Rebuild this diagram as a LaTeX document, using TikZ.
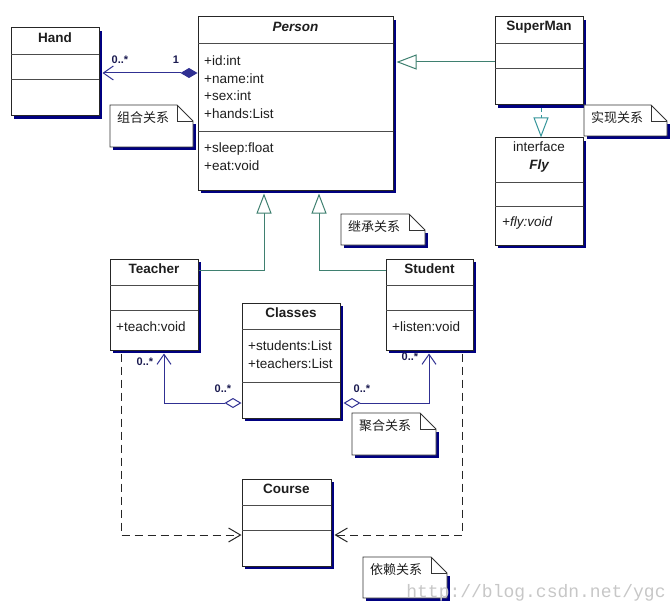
\documentclass[tikz,border=0pt]{standalone}
\usepackage{fontspec}
\setmainfont{Liberation Sans}
\newfontfamily\cjk{Noto Sans CJK SC}
\newfontfamily\wmfont{Liberation Mono}
\usetikzlibrary{arrows.meta,shadows}
\definecolor{shadownavy}{HTML}{000080}
\definecolor{assocblue}{HTML}{303092}
\definecolor{gencolor}{HTML}{3F8070}
\definecolor{realcolor}{HTML}{35959A}
\definecolor{txt}{HTML}{1E1E1E}
\definecolor{multc}{HTML}{1A1A50}
\tikzset{
  cls/.style={draw=black!85, line width=1pt, fill=white, inner sep=0pt,
    drop shadow={shadow xshift=3pt, shadow yshift=-3pt, fill=shadownavy, opacity=1, draw=none}},
  div/.style={draw=black!70, line width=0.9pt},
  ttl/.style={font=\fontsize{13.5}{16}\selectfont\bfseries, text=txt, inner sep=0pt},
  attr/.style={font=\fontsize{13.5}{16}\selectfont, text=txt, anchor=west, inner sep=0pt},
  mult/.style={font=\fontsize{11}{13}\selectfont\bfseries, text=multc, inner sep=0pt},
  notebox/.style={draw=black!80, line width=0.9pt, fill=white},
  notetext/.style={font=\cjk\fontsize{13}{15}\selectfont, text=txt, inner sep=0pt, anchor=west},
  assoc/.style={draw=assocblue, line width=1pt},
  gen/.style={draw=gencolor, line width=1pt, -{Triangle[open, length=20pt, width=15pt, fill=white]}},
  real/.style={draw=realcolor, line width=1pt, dash pattern=on 4pt off 3pt, -{Triangle[open, length=20pt, width=15pt, fill=white]}},
  dep/.style={draw=black!85, line width=1pt, dash pattern=on 8pt off 5pt, -{Straight Barb[length=12pt, width=14pt]}},
}
\newcommand{\mynote}[6]{%
  \fill[shadownavy] (#2+3,#3+19) -- (#4+3,#3+19) -- (#4+3,#5+3) -- (#2+3,#5+3) -- cycle;
  \draw[notebox] (#2,#3) -- (#4-16,#3) -- (#4,#3+16) -- (#4,#5) -- (#2,#5) -- cycle;
  \draw[notebox, fill=none] (#4-16,#3) -- (#4-16,#3+16) -- (#4,#3+16);
  \node[notetext] (#1) at (#2+7,#3+13) {#6};
}
\begin{document}
\begin{tikzpicture}[x=1pt, y=-1pt]
\useasboundingbox (0,0) rectangle (672,607);

% ---------- classes ----------
\node[cls, minimum width=88pt, minimum height=88pt] (hand) at (55,72) {};
\draw[div] (11,54) -- (99,54);
\draw[div] (11,79) -- (99,79);
\node[ttl] (handT) at (55,38) {Hand};

\node[cls, minimum width=195pt, minimum height=173pt] (person) at (295.5,103.5) {};
\draw[div] (198,43) -- (393,43);
\draw[div] (198,131) -- (393,131);
\node[ttl, font=\fontsize{13.5}{16}\selectfont\bfseries\itshape] (personT) at (295.5,27) {Person};
\node[attr] (pa1) at (204,61) {+id:int};
\node[attr] (pa2) at (204,79) {+name:int};
\node[attr] (pa3) at (204,96) {+sex:int};
\node[attr] (pa4) at (204,114) {+hands:List};
\node[attr] (pm1) at (204,149) {+sleep:float};
\node[attr] (pm2) at (204,166) {+eat:void};

\node[cls, minimum width=88pt, minimum height=88pt] (superman) at (539,61) {};
\draw[div] (495,43) -- (583,43);
\draw[div] (495,68) -- (583,68);
\node[ttl] (supermanT) at (539,27) {SuperMan};

\node[cls, minimum width=88pt, minimum height=107pt] (fly) at (539,191.5) {};
\draw[div] (495,182) -- (583,182);
\draw[div] (495,206) -- (583,206);
\node[attr, anchor=center] (flyS) at (539,147) {interface};
\node[ttl, font=\fontsize{13.5}{16}\selectfont\bfseries\itshape] (flyT) at (539,166) {Fly};
\node[attr, font=\fontsize{13.5}{16}\selectfont\itshape] (flyM) at (502,223) {+fly:void};

\node[cls, minimum width=88pt, minimum height=91pt] (teacher) at (154,304.5) {};
\draw[div] (110,285) -- (198,285);
\draw[div] (110,310) -- (198,310);
\node[ttl] (teacherT) at (154,269) {Teacher};
\node[attr] (teacherM) at (116,327) {+teach:void};

\node[cls, minimum width=87pt, minimum height=91pt] (student) at (429.5,304.5) {};
\draw[div] (386,285) -- (473,285);
\draw[div] (386,310) -- (473,310);
\node[ttl] (studentT) at (429.5,269) {Student};
\node[attr] (studentM) at (392,327) {+listen:void};

\node[cls, minimum width=98pt, minimum height=115pt] (classes) at (291,360.5) {};
\draw[div] (242,329) -- (340,329);
\draw[div] (242,382) -- (340,382);
\node[ttl] (classesT) at (291,313) {Classes};
\node[attr] (ca1) at (248,346) {+students:List};
\node[attr] (ca2) at (248,364) {+teachers:List};

\node[cls, minimum width=89pt, minimum height=87pt] (course) at (286.5,522.5) {};
\draw[div] (242,505) -- (331,505);
\draw[div] (242,530) -- (331,530);
\node[ttl] (courseT) at (286.5,489) {Course};

% ---------- connectors ----------
% composition Person -> Hand
\draw[assoc, {Diamond[length=17pt, width=10pt]}-{Straight Barb[length=10pt, width=14pt]}, shorten >=3pt]
  (person.west |- 0,73) -- (hand.east |- 0,73);
\node[mult] (m1) at (120,60) {0..*};
\node[mult] (m2) at (176,60) {1};

% generalization SuperMan -> Person
\draw[gen, shorten >=3pt] (superman.west |- 0,62) -- (person.east |- 0,62);

% realization SuperMan -> Fly
\draw[real, shorten <=3pt] (superman.south -| 541,0) -- (fly.north -| 541,0);

% generalization Teacher/Student -> Person
\draw[gen, shorten >=3pt] (teacher.east |- 0,270) -| (person.south -| 264,0);
\draw[gen, shorten >=3pt] (student.west |- 0,270) -| (person.south -| 319,0);

% aggregation Classes -> Teacher / Student
\draw[assoc, {Diamond[open, length=17pt, width=10pt, fill=white]}-{Straight Barb[length=10pt, width=14pt]}, shorten >=3pt]
  (classes.west |- 0,403) -| (teacher.south -| 164,0);
\draw[assoc, {Diamond[open, length=17pt, width=10pt, fill=white]}-{Straight Barb[length=10pt, width=14pt]}, shorten >=3pt, shorten <=3pt]
  (classes.east |- 0,403) -| (student.south -| 429,0);
\node[mult] (m3) at (145,362) {0..*};
\node[mult] (m4) at (223,389) {0..*};
\node[mult] (m5) at (362,389) {0..*};
\node[mult] (m6) at (410,357) {0..*};

% dependency Teacher/Student -> Course
\draw[dep, shorten <=3pt] (teacher.south -| 121,0) |- (course.west |- 0,535);
\draw[dep, shorten <=3pt, shorten >=3pt] (student.south -| 462,0) |- (course.east |- 0,535);

% ---------- notes ----------
\mynote{n1}{110}{105}{193}{147}{组合关系}
\mynote{n2}{584}{105}{667}{136}{实现关系}
\mynote{n3}{341}{214}{425}{245}{继承关系}
\mynote{n4}{352}{413}{436}{455}{聚合关系}
\mynote{n5}{363}{557}{447}{598}{依赖关系}

% ---------- watermark ----------
\node[font=\wmfont\fontsize{18}{20}\selectfont, text=black!22, anchor=base, inner sep=0pt] (wm) at (536,597) {http://blog.csdn.net/ygc};
\end{tikzpicture}
\end{document}
